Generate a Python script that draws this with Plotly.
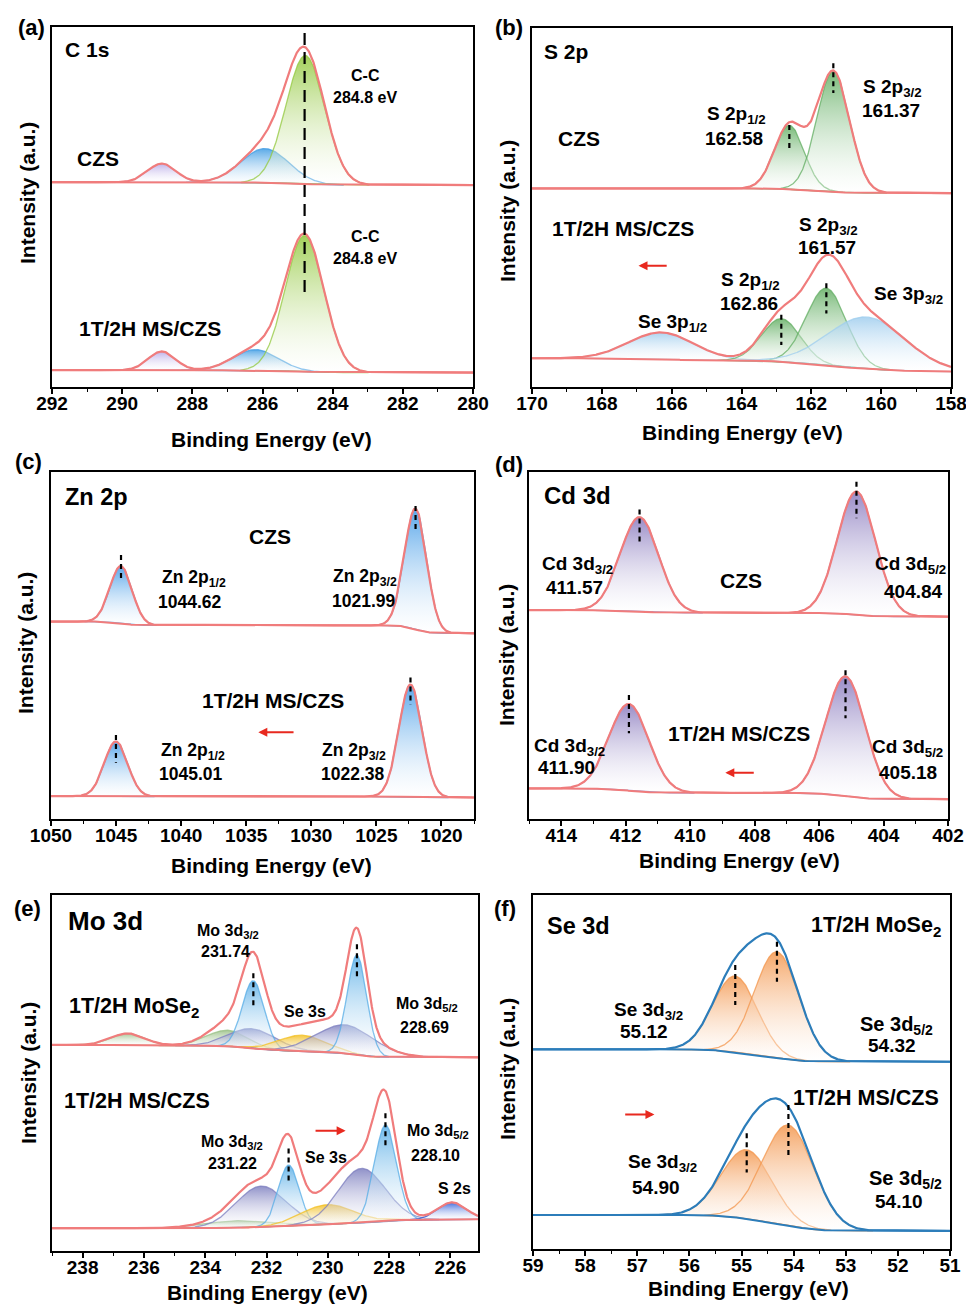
import numpy as np
import plotly.graph_objects as go

W, H = 966, 1305
OFF = 0
FONT = "Liberation Sans, Arial, Helvetica, sans-serif"

# ---------------- data: peak fits ----------------
# intensities in arbitrary units (0-100 per panel), bg = [high-BE end, low-BE end]
# (a) C 1s
a_czs_centers = [288.87, 285.93, 284.78]
a_czs_heights = [5.2, 9.5, 35.7]
a_czs_fwhm = [0.95, 1.6, 1.3]
a_czs_bg = [56.9, 56.1]
a_ms_centers = [288.87, 286.2, 284.8]
a_ms_heights = [5.2, 5.8, 37.8]
a_ms_fwhm = [0.9, 1.5, 1.3]
a_ms_bg = [4.7, 4.0]
# (b) S 2p
b_czs_centers = [162.63, 161.37]
b_czs_heights = [17.8, 33.5]
b_czs_fwhm = [1.0, 1.1]
b_czs_bg = [55.3, 54.0]
b_ms_centers = [166.29, 162.86, 161.57, 160.42]
b_ms_heights = [7.5, 12.0, 21.5, 14.5]
b_ms_fwhm = [2.2, 1.3, 1.35, 2.6]
b_ms_bg = [8.0, 4.3]
# (c) Zn 2p
c_czs_centers = [1044.62, 1021.99]
c_czs_heights = [16.5, 34.8]
c_czs_fwhm = [2.0, 2.0]
c_czs_bg = [56.9, 53.5]
c_ms_centers = [1045.01, 1022.38]
c_ms_heights = [15.8, 32.4]
c_ms_fwhm = [2.1, 2.1]
c_ms_bg = [6.6, 6.2]
# (d) Cd 3d
d_czs_centers = [411.57, 404.84]
d_czs_heights = [27.2, 35.5]
d_czs_fwhm = [1.4, 1.4]
d_czs_bg = [60.2, 58.3]
d_ms_centers = [411.90, 405.18]
d_ms_heights = [25.0, 34.5]
d_ms_fwhm = [1.45, 1.45]
d_ms_bg = [8.8, 5.7]
# (e) Mo 3d
e_mose_centers = [236.52, 233.27, 232.45, 232.43, 230.83, 229.42, 229.05]
e_mose_heights = [3.3, 4.5, 5.5, 19.0, 4.5, 8.0, 28.0]
e_mose_fwhm = [1.3, 1.6, 1.8, 0.85, 1.8, 2.2, 0.75]
e_mose_bg = [57.9, 54.4]
e_ms_centers = [232.9, 232.18, 231.28, 230.0, 228.9, 228.12, 225.95]
e_ms_heights = [2.0, 11.5, 17.0, 5.5, 15.3, 27.0, 4.8]
e_ms_fwhm = [2.5, 1.9, 0.8, 2.0, 1.8, 0.85, 1.1]
e_ms_bg = [6.4, 8.9]
# (f) Se 3d
f_mose_centers = [55.12, 54.32]
f_mose_heights = [21.5, 30.0]
f_mose_fwhm = [1.0, 1.0]
f_mose_bg = [56.4, 52.9]
f_ms_centers = [54.90, 54.10]
f_ms_heights = [19.5, 28.5]
f_ms_fwhm = [1.15, 1.15]
f_ms_bg = [9.6, 5.1]

# tick settings
x_ranges = [(292, 280), (170, 158), (1050, 1017.5), (415, 402), (239, 225.1), (59, 51)]
x_dticks = [2, 2, 5, 2, 2, 1]

# ---------------- styling ----------------
PINK = "#F07C7C"
BLUE_ENV = "#2C7DBA"
GREEN_A = "#93C83E"; BLUE_A = "#3D9BE3"; PURP_A = "#B3A3E6"
GREEN_B = "#62AE62"; SE_B = "#9FCDEE"
BLUE_C = "#3A96E6"
PURP_D = "#8777BD"
GREEN_E = "#97BF83"; PURP_E = "#7C7EBF"; BLUE_E = "#55ACE6"; YEL_E = "#F3BF1F"; DB_E = "#2152D6"
ORANGE_F = "#F3964C"

# plot boxes in page pixels: left, right, top, bottom
boxes = [(52, 473, 27, 387), (532, 951, 28, 387), (51, 474, 472, 819),
         (529, 948, 472, 819), (52, 478, 895, 1251), (533, 950, 895, 1249)]

LN4 = 4 * np.log(2)


def PX(px):
    return (px - OFF) / W


def PY(py):
    return 1 - (py - OFF) / H


def rgba(hexc, a):
    h = hexc.lstrip('#')
    r, g, b = int(h[0:2], 16), int(h[2:4], 16), int(h[4:6], 16)
    return f"rgba({r},{g},{b},{a})"


def model(xr, centers, heights, fwhms, bg, n=900):
    lo, hi = min(xr), max(xr)
    x = np.linspace(lo, hi, n)
    comps = [h * np.exp(-LN4 * ((x - c) / w) ** 2) for c, h, w in zip(centers, heights, fwhms)]
    total = np.sum(comps, axis=0)
    cum = np.concatenate([[0.0], np.cumsum((total[1:] + total[:-1]) / 2 * np.diff(x))])
    frac = cum / cum[-1]
    base = bg[1] + (bg[0] - bg[1]) * frac   # Shirley-type background
    return x, base, comps, base + total


fig = go.Figure()


def ax(i):
    return ("x" if i == 1 else f"x{i}"), ("y" if i == 1 else f"y{i}")


def add_spectrum(i, centers, heights, fwhms, bg, colors, env_color):
    xa, ya = ax(i)
    x, base, comps, env = model(x_ranges[i - 1], centers, heights, fwhms, bg)
    for G, col in zip(comps, colors):
        m = G > 0.004 * G.max()
        xs = x[m]
        top = (base + G)[m]
        bot = base[m]
        fig.add_trace(go.Scatter(
            x=np.concatenate([xs, xs[::-1]]), y=np.concatenate([top, bot[::-1]]),
            mode="lines", fill="toself",
            line=dict(color=rgba(col, 0.75), width=1.3),
            fillgradient=dict(type="vertical",
                              colorscale=[[0, "rgba(255,255,255,0.25)"], [1, rgba(col, 0.85)]]),
            xaxis=xa, yaxis=ya, hoverinfo="skip", showlegend=False))
    fig.add_trace(go.Scatter(x=x, y=base, mode="lines", line=dict(color=env_color, width=2),
                             xaxis=xa, yaxis=ya, hoverinfo="skip", showlegend=False))
    fig.add_trace(go.Scatter(x=x, y=env, mode="lines", line=dict(color=env_color, width=2.2),
                             xaxis=xa, yaxis=ya, hoverinfo="skip", showlegend=False))


add_spectrum(1, a_czs_centers, a_czs_heights, a_czs_fwhm, a_czs_bg, [PURP_A, BLUE_A, GREEN_A], PINK)
add_spectrum(1, a_ms_centers, a_ms_heights, a_ms_fwhm, a_ms_bg, [PURP_A, BLUE_A, GREEN_A], PINK)
add_spectrum(2, b_czs_centers, b_czs_heights, b_czs_fwhm, b_czs_bg, [GREEN_B, GREEN_B], PINK)
add_spectrum(2, b_ms_centers, b_ms_heights, b_ms_fwhm, b_ms_bg, [SE_B, GREEN_B, GREEN_B, SE_B], PINK)
add_spectrum(3, c_czs_centers, c_czs_heights, c_czs_fwhm, c_czs_bg, [BLUE_C, BLUE_C], PINK)
add_spectrum(3, c_ms_centers, c_ms_heights, c_ms_fwhm, c_ms_bg, [BLUE_C, BLUE_C], PINK)
add_spectrum(4, d_czs_centers, d_czs_heights, d_czs_fwhm, d_czs_bg, [PURP_D, PURP_D], PINK)
add_spectrum(4, d_ms_centers, d_ms_heights, d_ms_fwhm, d_ms_bg, [PURP_D, PURP_D], PINK)
add_spectrum(5, e_mose_centers, e_mose_heights, e_mose_fwhm, e_mose_bg,
             [GREEN_E, GREEN_E, PURP_E, BLUE_E, YEL_E, PURP_E, BLUE_E], PINK)
add_spectrum(5, e_ms_centers, e_ms_heights, e_ms_fwhm, e_ms_bg,
             [GREEN_E, PURP_E, BLUE_E, YEL_E, PURP_E, BLUE_E, DB_E], PINK)
add_spectrum(6, f_mose_centers, f_mose_heights, f_mose_fwhm, f_mose_bg, [ORANGE_F, ORANGE_F], BLUE_ENV)
add_spectrum(6, f_ms_centers, f_ms_heights, f_ms_fwhm, f_ms_bg, [ORANGE_F, ORANGE_F], BLUE_ENV)

# ---------------- axes ----------------
layout = dict(width=W, height=H, template="none",
              margin=dict(l=0, r=0, t=0, b=0, pad=0, autoexpand=False),
              paper_bgcolor="white", plot_bgcolor="white", showlegend=False)
for i, (x0, x1, y0, y1) in enumerate(boxes, start=1):
    sfx = "" if i == 1 else str(i)
    xr = x_ranges[i - 1]
    layout["xaxis" + sfx] = dict(
        domain=[PX(x0), PX(x1)], anchor="y" + sfx, range=list(xr), automargin=False,
        showline=True, mirror=True, linecolor="black", linewidth=2,
        ticks="outside", ticklen=5, tickwidth=1.5, tickcolor="black",
        tick0=0, dtick=x_dticks[i - 1], ticklabelstandoff=-7, ticklabeloverflow="allow",
        minor=dict(ticks="outside", ticklen=3, tickwidth=1.2, tickcolor="black",
                   dtick=x_dticks[i - 1] / 2, showgrid=False),
        showgrid=False, zeroline=False,
        tickfont=dict(family=FONT, size=19, color="black", weight="bold"))
    layout["yaxis" + sfx] = dict(
        domain=[PY(y1), PY(y0)], anchor="x" + sfx, range=[0, 100], automargin=False,
        showline=True, mirror=True, linecolor="black", linewidth=2,
        showticklabels=False, ticks="", showgrid=False, zeroline=False)

# ---------------- peak-position dashes ----------------
shapes = []
dash_marks = [
    (1, 284.8, 98.3, 25.5, "12px,7px"),
    (2, b_czs_centers[0], 73.0, 65.5, "5px,4px"), (2, b_czs_centers[1], 90.2, 81.9, "5px,4px"),
    (2, b_ms_centers[1], 20.1, 11.7, "5px,4px"), (2, b_ms_centers[2], 28.9, 20.5, "5px,4px"),
    (3, c_czs_centers[0], 76.1, 68.4, "5px,4px"), (3, c_czs_centers[1], 90.2, 82.8, "5px,4px"),
    (3, c_ms_centers[0], 24.2, 16.2, "5px,4px"), (3, c_ms_centers[1], 40.8, 32.9, "5px,4px"),
    (4, d_czs_centers[0], 89.2, 79.9, "5px,4px"), (4, d_czs_centers[1], 97.2, 86.7, "5px,4px"),
    (4, d_ms_centers[0], 35.7, 24.7, "5px,4px"), (4, d_ms_centers[1], 42.9, 29.0, "5px,4px"),
    (5, e_mose_centers[3], 78.0, 67.9, "5px,4px"), (5, e_mose_centers[6], 86.2, 76.3, "5px,4px"),
    (5, e_ms_centers[2], 28.8, 19.0, "5px,4px"), (5, e_ms_centers[5], 38.7, 28.8, "5px,4px"),
    (6, f_mose_centers[0], 80.2, 68.9, "5px,4px"), (6, f_mose_centers[1], 86.8, 75.5, "5px,4px"),
    (6, f_ms_centers[0], 32.7, 21.6, "5px,4px"), (6, f_ms_centers[1], 40.7, 26.3, "5px,4px"),
]
for i, xv, ya0, ya1, dash in dash_marks:
    xa, yax = ax(i)
    shapes.append(dict(type="line", xref=xa, yref=yax, x0=xv, x1=xv, y0=ya0, y1=ya1,
                       line=dict(color="black", width=2.2, dash=dash)))
layout["shapes"] = shapes

# ---------------- text ----------------
ann = []


def T(px, py, text, size, anchor="center", angle=0, bold=True):
    ann.append(dict(x=PX(px), y=PY(py), xref="paper", yref="paper", text=text,
                    showarrow=False, textangle=angle, xanchor=anchor, yanchor="middle",
                    font=dict(family=FONT, size=size, color="black",
                              weight="bold" if bold else "normal")))


for lbl, px, py in [("(a)", 31, 28), ("(b)", 509, 28), ("(c)", 28, 462),
                    ("(d)", 509, 464), ("(e)", 27, 909), ("(f)", 505, 909)]:
    T(px, py, lbl, 22)
for px, py in [(271, 440), (742, 432), (271, 865), (739, 861), (267, 1292), (748, 1288)]:
    T(px, py, "Binding Energy (eV)", 21)
for px, py in [(27, 193), (508, 211), (25, 643), (506, 655), (28, 1073), (507, 1069)]:
    T(px, py, "Intensity (a.u.)", 21, angle=-90)

# (a)
T(63, 50, "C 1s", 21, "left"); T(98, 159, "CZS", 21)
T(365, 75, "C-C", 16); T(365, 97, "284.8 eV", 16)
T(365, 236, "C-C", 16); T(365, 258, "284.8 eV", 16)
T(150, 329, "1T/2H MS/CZS", 21)
# (b)
T(542, 52, "S 2p", 21, "left"); T(579, 139, "CZS", 21)
T(892, 88, "S 2p<sub>3/2</sub>", 19); T(891, 110, "161.37", 19)
T(736, 115, "S 2p<sub>1/2</sub>", 19); T(734, 138, "162.58", 19)
T(623, 228, "1T/2H MS/CZS", 21)
T(828, 226, "S 2p<sub>3/2</sub>", 19); T(827, 248, "161.57", 19)
T(750, 281, "S 2p<sub>1/2</sub>", 19); T(749, 303, "162.86", 19)
T(672, 323, "Se 3p<sub>1/2</sub>", 19); T(908, 295, "Se 3p<sub>3/2</sub>", 19)
# (c)
T(63, 497, "Zn 2p", 23.5, "left"); T(270, 536, "CZS", 21)
T(194, 578, "Zn 2p<sub>1/2</sub>", 17.5); T(190, 602, "1044.62", 17.5)
T(365, 577, "Zn 2p<sub>3/2</sub>", 17.5); T(364, 601, "1021.99", 17.5)
T(273, 700, "1T/2H MS/CZS", 21)
T(193, 752, "Zn 2p<sub>1/2</sub>", 17.5); T(191, 774, "1045.01", 17.5)
T(354, 752, "Zn 2p<sub>3/2</sub>", 17.5); T(353, 774, "1022.38", 17.5)
# (d)
T(542, 496, "Cd 3d", 24, "left")
T(577, 565, "Cd 3d<sub>3/2</sub>", 19); T(574, 588, "411.57", 19)
T(741, 580, "CZS", 21)
T(910, 565, "Cd 3d<sub>5/2</sub>", 19); T(913, 591, "404.84", 19)
T(739, 733, "1T/2H MS/CZS", 21)
T(569, 747, "Cd 3d<sub>3/2</sub>", 19); T(566, 767, "411.90", 19)
T(907, 748, "Cd 3d<sub>5/2</sub>", 19); T(908, 772, "405.18", 19)
# (e)
T(66, 921, "Mo 3d", 26, "left")
T(228, 931, "Mo 3d<sub>3/2</sub>", 16); T(225, 951, "231.74", 16)
T(134, 1007, "1T/2H MoSe<sub>2</sub>", 21.5)
T(305, 1011, "Se 3s", 16)
T(427, 1005, "Mo 3d<sub>5/2</sub>", 16); T(424, 1027, "228.69", 16)
T(137, 1101, "1T/2H MS/CZS", 21.5)
T(232, 1142, "Mo 3d<sub>3/2</sub>", 16); T(232, 1163, "231.22", 16)
T(326, 1157, "Se 3s", 16)
T(438, 1131, "Mo 3d<sub>5/2</sub>", 16); T(435, 1155, "228.10", 16)
T(454, 1188, "S 2s", 16)
# (f)
T(545, 926, "Se 3d", 23.5, "left")
T(876, 926, "1T/2H MoSe<sub>2</sub>", 21.5)
T(648, 1011, "Se 3d<sub>3/2</sub>", 19); T(644, 1031, "55.12", 19)
T(896, 1025, "Se 3d<sub>5/2</sub>", 20); T(892, 1045, "54.32", 19)
T(866, 1098, "1T/2H MS/CZS", 21.5)
T(662, 1163, "Se 3d<sub>3/2</sub>", 19); T(656, 1187, "54.90", 19)
T(905, 1179, "Se 3d<sub>5/2</sub>", 20); T(899, 1201, "54.10", 19)

# shift arrows (head, tail, level)
arrows = [(2, 166.95, 166.1, 33.8), (3, 1034.07, 1031.25, 25.0), (4, 408.91, 407.98, 13.3),
          (5, 229.42, 230.45, 33.8), (6, 56.67, 57.26, 38.0)]
for i, xh, xt, yv in arrows:
    xa, yax = ax(i)
    ann.append(dict(x=xh, y=yv, ax=xt, ay=yv, xref=xa, yref=yax, axref=xa, ayref=yax,
                    text="", showarrow=True, arrowhead=2, arrowsize=0.9, arrowwidth=2,
                    arrowcolor="#E8291F"))

layout["annotations"] = ann
fig.update_layout(**layout)
fig.write_html("out.html", config={"displayModeBar": False},
               post_script="document.body.style.margin='0';document.body.style.overflow='hidden';"
                           "document.documentElement.style.overflow='hidden';")
